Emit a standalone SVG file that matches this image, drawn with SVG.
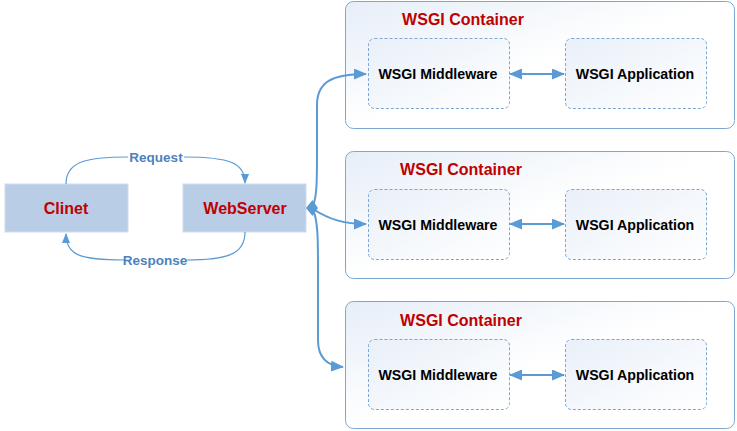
<svg xmlns="http://www.w3.org/2000/svg" width="737" height="431" viewBox="0 0 737 431">
<style>
.cont{fill:url(#cg);stroke:#7ea6d3;stroke-width:1}
.inner{fill:url(#ig);stroke:#7ea6d3;stroke-width:1;stroke-dasharray:3,2}
.title{font-family:"Liberation Sans",Arial,sans-serif;font-weight:bold;font-size:16px;fill:#c00000;text-anchor:middle}
.lbl{font-family:"Liberation Sans",Arial,sans-serif;font-weight:bold;font-size:14.2px;fill:#000;text-anchor:middle}
.box{fill:#b9cde6;stroke:#d0dcec;stroke-width:1}
.boxt{font-family:"Liberation Sans",Arial,sans-serif;font-weight:bold;font-size:16px;fill:#c00000;text-anchor:middle}
.edge{fill:none;stroke:#5b9bd5;stroke-width:2}
.thin{fill:none;stroke:#5b9bd5;stroke-width:1.2}
.elbl{font-family:"Liberation Sans",Arial,sans-serif;font-weight:bold;font-size:13.5px;fill:#4f81bd;text-anchor:middle}
</style>
<defs>
<linearGradient id="cg" x1="0" y1="0" x2="1" y2="1">
<stop offset="0" stop-color="#e6eef8"/><stop offset="0.5" stop-color="#ffffff"/><stop offset="1" stop-color="#ffffff"/>
</linearGradient>
<linearGradient id="ig" x1="0" y1="0" x2="1" y2="1">
<stop offset="0" stop-color="#e9f0f9"/><stop offset="1" stop-color="#ffffff"/>
</linearGradient>
<marker id="ah" markerWidth="10" markerHeight="8" refX="9" refY="4" orient="auto" markerUnits="userSpaceOnUse">
<path d="M0,0 L10,4 L0,8 Z" fill="#5b9bd5"/>
</marker>
<marker id="ahb" markerWidth="13" markerHeight="11" refX="12" refY="5.5" orient="auto" markerUnits="userSpaceOnUse">
<path d="M0,0 L13,5.5 L0,11 Z" fill="#5b9bd5"/>
</marker>
<marker id="ahbs" markerWidth="13" markerHeight="11" refX="1" refY="5.5" orient="auto" markerUnits="userSpaceOnUse">
<path d="M13,0 L0,5.5 L13,11 Z" fill="#5b9bd5"/>
</marker>
</defs>

<g id="client">
<rect class="box" x="5" y="184" width="123" height="48"/>
<text class="boxt" x="66" y="214">Clinet</text>
</g>
<g id="webserver">
<rect class="box" x="183" y="184" width="123" height="48"/>
<text class="boxt" x="245" y="214">WebServer</text>
</g>

<g id="container1">
<rect class="cont" x="345.5" y="1.5" width="389" height="127" rx="8"/>
<text class="title" x="463" y="25">WSGI Container</text>
<g id="mw1"><rect class="inner" x="368.5" y="38.5" width="141" height="70" rx="6"/><text class="lbl" x="438" y="79">WSGI Middleware</text></g>
<g id="app1"><rect class="inner" x="565.5" y="38.5" width="141" height="70" rx="6"/><text class="lbl" x="635" y="79">WSGI Application</text></g>
</g>
<g id="container2">
<rect class="cont" x="345.5" y="151.5" width="389" height="127" rx="8"/>
<text class="title" x="461" y="175">WSGI Container</text>
<g id="mw2"><rect class="inner" x="368.5" y="189.5" width="141" height="70" rx="6"/><text class="lbl" x="438" y="230">WSGI Middleware</text></g>
<g id="app2"><rect class="inner" x="565.5" y="189.5" width="141" height="70" rx="6"/><text class="lbl" x="635" y="230">WSGI Application</text></g>
</g>
<g id="container3">
<rect class="cont" x="345.5" y="301.5" width="389" height="127" rx="8"/>
<text class="title" x="461" y="326">WSGI Container</text>
<g id="mw3"><rect class="inner" x="368.5" y="339.5" width="141" height="70" rx="6"/><text class="lbl" x="438" y="380">WSGI Middleware</text></g>
<g id="app3"><rect class="inner" x="565.5" y="339.5" width="141" height="70" rx="6"/><text class="lbl" x="635" y="380">WSGI Application</text></g>
</g>

<g id="connectors">
<path class="thin" d="M66,184 C66,162 85,157 128,157"/>
<path class="thin" d="M184,157 C230,157 245,163 245,183" marker-end="url(#ah)"/>
<path class="thin" d="M245,232 C245,253 230,260 186,260"/>
<path class="thin" d="M124,260 C80,260 66,255 66,234" marker-end="url(#ah)"/>
<text class="elbl" x="156" y="162">Request</text>
<text class="elbl" x="155" y="265">Response</text>
<path class="edge" d="M313,206 C317,196 317,180 317,150 L317,105 C317,82 332,74 366,74" marker-end="url(#ahb)"/>
<path class="edge" d="M313,209 C330,220 345,224 366,224" marker-end="url(#ahb)"/>
<path class="edge" d="M313,210 C318,220 318,240 318,270 L318,340 C318,358 328,366 343,367" marker-end="url(#ahb)"/>
<polygon points="306,208 312.5,200 318,208 312.5,216" fill="#5b9bd5"/>
<path class="edge" d="M510,74 L564,74" marker-start="url(#ahbs)" marker-end="url(#ahb)"/>
<path class="edge" d="M510,224 L564,224" marker-start="url(#ahbs)" marker-end="url(#ahb)"/>
<path class="edge" d="M510,375 L564,375" marker-start="url(#ahbs)" marker-end="url(#ahb)"/>
</g>
</svg>
